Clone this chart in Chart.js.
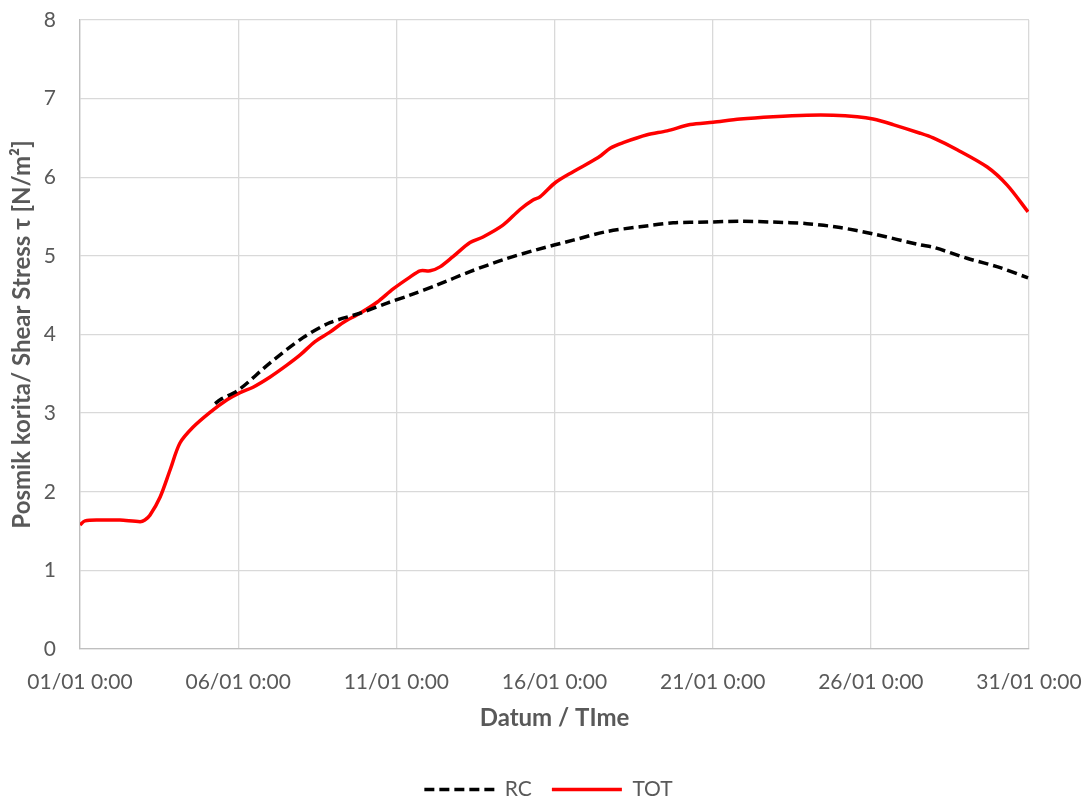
<!DOCTYPE html>
<html>
<head>
<meta charset="utf-8">
<script src="https://cdn.jsdelivr.net/npm/chart.js@4/dist/chart.umd.min.js"></script>
<style>
  html, body { margin: 0; padding: 0; background: #fff; }
  #wrap { width: 1088px; height: 805px; }
</style>
</head>
<body>
<div id="wrap"><canvas id="shear"></canvas></div>
<script>
// x values are days since 01/01 0:00
var tickLabels = ['01/01 0:00', '06/01 0:00', '11/01 0:00', '16/01 0:00', '21/01 0:00', '26/01 0:00', '31/01 0:00'];

var totDays = [0, 0.16, 0.63, 1.26, 1.90, 2.05, 2.21, 2.53, 2.85, 3.16, 3.57, 4.11, 4.65, 5.06, 5.47, 6.01,
  6.54, 6.96, 7.43, 7.90, 8.31, 8.85, 9.39, 9.90, 10.43, 10.75, 11.07, 11.38, 11.79, 12.33, 12.74, 13.37,
  13.91, 14.32, 14.54, 15.02, 15.59, 16.38, 16.76, 17.17, 17.93, 18.56, 19.29, 20.01, 20.87, 21.91, 22.98,
  23.81, 24.57, 25.07, 25.70, 26.56, 26.97, 27.73, 28.68, 29.31, 29.97];
var totValues = [1.58, 1.63, 1.64, 1.64, 1.62, 1.64, 1.70, 1.93, 2.28, 2.62, 2.82, 3.01, 3.17, 3.26, 3.33, 3.46,
  3.61, 3.74, 3.91, 4.03, 4.15, 4.27, 4.41, 4.58, 4.73, 4.81, 4.81, 4.86, 4.99, 5.17, 5.24, 5.39,
  5.59, 5.71, 5.75, 5.93, 6.07, 6.25, 6.37, 6.44, 6.54, 6.59, 6.67, 6.70, 6.74, 6.77, 6.79,
  6.79, 6.77, 6.74, 6.67, 6.56, 6.50, 6.35, 6.13, 5.90, 5.56];

var rcDays = [4.27, 4.43, 5.03, 6.01, 7.05, 7.90, 8.85, 9.71, 10.43, 11.29, 12.33, 13.37, 14.45, 15.59, 16.66,
  17.70, 18.75, 19.82, 20.87, 21.91, 22.98, 24.03, 25.07, 26.56, 26.97, 28.04, 29.09, 29.97];
var rcValues = [3.12, 3.17, 3.30, 3.64, 3.96, 4.15, 4.27, 4.40, 4.50, 4.63, 4.80, 4.95, 5.08, 5.20, 5.31,
  5.37, 5.42, 5.43, 5.44, 5.43, 5.41, 5.36, 5.28, 5.14, 5.11, 4.97, 4.85, 4.72];

function toPoints(xs, ys) {
    return xs.map(function (x, i) { return { x: x, y: ys[i] }; });
}

var fontFam = 'Lato, "Open Sans", sans-serif';
var txtColor = '#595959';
var gridColor = '#d9d9d9';

// nudge the legend down/right to sit like the excel one
var legendShift = {
    id: 'legendShift',
    afterLayout: function (chart) {
        var lg = chart.legend;
        if (!lg) return;
        lg.top += 5; lg.bottom += 5;
        lg.left += 34; lg.right += 34;
    }
};

var ctx = document.getElementById('shear').getContext('2d');
var chart = new Chart(ctx, {
    type: 'line',
    data: {
        datasets: [{
            label: 'RC',
            data: toPoints(rcDays, rcValues),
            borderColor: '#000000',
            backgroundColor: '#000000',
            borderWidth: 3.5,
            borderDash: [10, 5],
            pointRadius: 0,
            tension: 0.3,
            fill: false
        }, {
            label: 'TOT',
            data: toPoints(totDays, totValues),
            borderColor: '#ff0000',
            backgroundColor: '#ff0000',
            borderWidth: 3.5,
            pointRadius: 0,
            tension: 0.3,
            fill: false
        }]
    },
    plugins: [legendShift],
    options: {
        responsive: true,
        maintainAspectRatio: false,
        animation: false,
        layout: { padding: { top: 20, right: 59, left: 0, bottom: 0 } },
        plugins: {
            tooltip: { enabled: false },
            legend: {
                position: 'bottom',
                labels: {
                    usePointStyle: true,
                    pointStyle: 'line',
                    pointStyleWidth: 70,
                    boxHeight: 21,
                    padding: 20,
                    color: txtColor,
                    font: { family: fontFam, size: 21 },
                    generateLabels: function (c) {
                        var items = Chart.defaults.plugins.legend.labels.generateLabels(c);
                        items.forEach(function (it) {
                            var ds = c.data.datasets[it.datasetIndex];
                            it.lineDash = ds.borderDash || [];
                            it.lineWidth = ds.borderWidth;
                            it.strokeStyle = ds.borderColor;
                            it.pointStyle = 'line';
                        });
                        return items;
                    }
                }
            }
        },
        scales: {
            x: {
                type: 'linear',
                min: 0,
                max: 30,
                afterFit: function (scale) { scale.height = 105; },
                grid: { color: gridColor, lineWidth: 1.3, drawTicks: true, tickLength: 21, tickColor: 'rgba(0,0,0,0)' },
                border: { color: '#bfbfbf', width: 1.3 },
                ticks: {
                    stepSize: 5,
                    padding: 0,
                    maxRotation: 0,
                    color: txtColor,
                    font: { family: fontFam, size: 21 },
                    callback: function (v) { return tickLabels[Math.round(v / 5)]; }
                },
                title: {
                    display: true,
                    text: 'Datum / TIme',
                    color: txtColor,
                    font: { family: fontFam, size: 24, weight: 'bold' },
                    padding: { top: 4, bottom: 21 }
                }
            },
            y: {
                min: 0,
                max: 8,
                afterFit: function (scale) { scale.width = 80; },
                grid: { color: gridColor, lineWidth: 1.3, drawTicks: true, tickLength: 24, tickColor: 'rgba(0,0,0,0)' },
                border: { color: '#bfbfbf', width: 1.3 },
                ticks: {
                    stepSize: 1,
                    padding: 0,
                    color: txtColor,
                    font: { family: fontFam, size: 21 }
                },
                title: {
                    display: true,
                    text: 'Posmik korita/ Shear Stress τ [N/m²]',
                    color: txtColor,
                    font: { family: fontFam, size: 24, weight: 'bold' },
                    padding: { top: 8, bottom: 0 }
                }
            }
        }
    }
});
</script>
</body>
</html>
